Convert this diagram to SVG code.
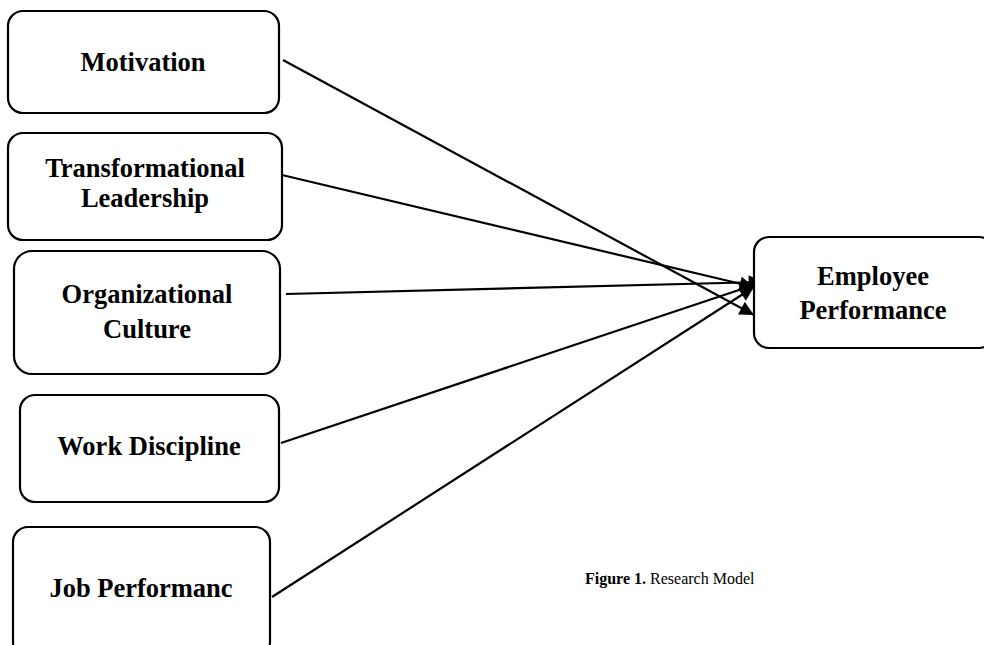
<svg xmlns="http://www.w3.org/2000/svg" width="984" height="645" viewBox="0 0 984 645">
<style>
.box{fill:#fff;stroke:#000;stroke-width:2.2}
.t{font-family:"Liberation Serif","Times New Roman",serif;font-weight:bold;font-size:26.5px;text-anchor:middle;fill:#000}
.c{font-family:"Liberation Serif","Times New Roman",serif;font-size:16px;fill:#000}
.ln{stroke:#000;stroke-width:2.2;fill:none;marker-end:url(#ah)}
</style>
<defs>
<marker id="ah" viewBox="0 0 10 10" refX="10" refY="5" markerWidth="7.5" markerHeight="6.5" markerUnits="strokeWidth" orient="auto">
<path d="M0,0 L10,5 L0,10 z" fill="#000"/>
</marker>
</defs>
<rect width="984" height="645" fill="#fff"/>
<g id="connectors">
<line class="ln" x1="283" y1="60" x2="754" y2="315"/>
<line class="ln" x1="282" y1="175" x2="754" y2="287"/>
<line class="ln" x1="286" y1="294" x2="763" y2="282"/>
<line class="ln" x1="281" y1="443" x2="754" y2="285"/>
<line class="ln" x1="272" y1="597" x2="754" y2="287"/>
</g>
<g id="motivation"><rect class="box" x="8" y="11" width="271" height="102" rx="15"/><text class="t" x="143" y="71">Motivation</text></g>
<g id="transformational"><rect class="box" x="8" y="133" width="274" height="107" rx="15"/><text class="t" x="145" y="177">Transformational</text><text class="t" x="145" y="207">Leadership</text></g>
<g id="organizational"><rect class="box" x="14" y="251" width="266" height="123" rx="18"/><text class="t" x="147" y="303">Organizational</text><text class="t" x="147" y="338">Culture</text></g>
<g id="workdiscipline"><rect class="box" x="20" y="395" width="259" height="107" rx="15"/><text class="t" x="149" y="455">Work Discipline</text></g>
<g id="jobperformanc"><rect class="box" x="13" y="527" width="257" height="130" rx="15"/><text class="t" x="141" y="597">Job Performanc</text></g>
<g id="employee"><rect class="box" x="754" y="237" width="240" height="111" rx="15"/><text class="t" x="873" y="285">Employee</text><text class="t" x="873" y="319">Performance</text></g>
<text class="c" x="585" y="584"><tspan font-weight="bold">Figure 1.</tspan> Research Model</text>
</svg>
